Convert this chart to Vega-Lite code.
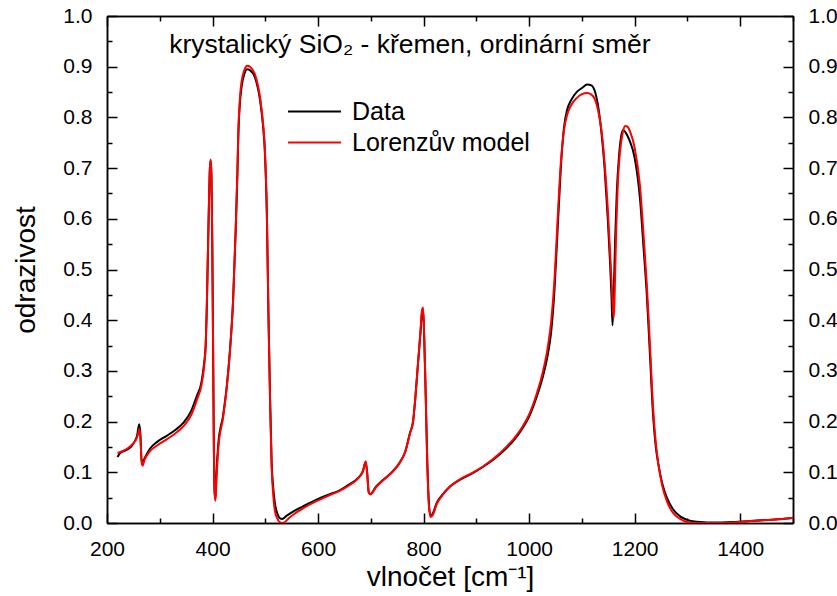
{
  "$schema": "https://vega.github.io/schema/vega-lite/v6.json",
  "width": 686,
  "height": 507,
  "autosize": {"type": "none"},
  "padding": {"left": 107, "top": 16, "right": 44, "bottom": 73},
  "background": "white",
  "config": {
    "view": {"stroke": null},
    "font": "Liberation Sans",
    "axis": {
      "grid": false,
      "domainColor": "#000000",
      "domainWidth": 1.5,
      "tickColor": "#000000",
      "tickWidth": 1.5,
      "labelColor": "#000000",
      "labelFont": "Liberation Sans",
      "labelFontSize": 21,
      "titleFont": "Liberation Sans",
      "titleFontWeight": "normal",
      "titleColor": "#000000",
      "titleFontSize": 28
    }
  },
  "datasets": {
    "title": [{"x": 774, "y": 0.943, "t": "krystalický SiO₂ - křemen, ordinární směr"}]
  },
  "data": {"values": [
    {"s":"Data","x":220,"y":0.130},{"s":"Data","x":225,"y":0.138},{"s":"Data","x":235,"y":0.143},{"s":"Data","x":245,"y":0.150},{"s":"Data","x":252,"y":0.160},{"s":"Data","x":257,"y":0.172},{"s":"Data","x":261,"y":0.195},{"s":"Data","x":263,"y":0.180},{"s":"Data","x":266,"y":0.116},{"s":"Data","x":270,"y":0.125},{"s":"Data","x":281,"y":0.146},{"s":"Data","x":295,"y":0.160},{"s":"Data","x":313,"y":0.172},{"s":"Data","x":330,"y":0.184},{"s":"Data","x":345,"y":0.198},{"s":"Data","x":360,"y":0.222},{"s":"Data","x":370,"y":0.250},{"s":"Data","x":379,"y":0.278},{"s":"Data","x":384,"y":0.315},{"s":"Data","x":387,"y":0.350},{"s":"Data","x":389,"y":0.42},{"s":"Data","x":391,"y":0.52},{"s":"Data","x":393,"y":0.62},{"s":"Data","x":395,"y":0.70},{"s":"Data","x":396.5,"y":0.715},{"s":"Data","x":398,"y":0.68},{"s":"Data","x":399.5,"y":0.55},{"s":"Data","x":401,"y":0.35},{"s":"Data","x":402.5,"y":0.15},{"s":"Data","x":404,"y":0.06},{"s":"Data","x":405.5,"y":0.048},{"s":"Data","x":407,"y":0.09},{"s":"Data","x":411,"y":0.157},{"s":"Data","x":420,"y":0.212},{"s":"Data","x":427,"y":0.27},{"s":"Data","x":433,"y":0.341},{"s":"Data","x":439,"y":0.44},{"s":"Data","x":444,"y":0.58},{"s":"Data","x":447,"y":0.683},{"s":"Data","x":449,"y":0.77},{"s":"Data","x":452,"y":0.83},{"s":"Data","x":455,"y":0.86},{"s":"Data","x":460,"y":0.885},{"s":"Data","x":466,"y":0.895},{"s":"Data","x":471,"y":0.893},{"s":"Data","x":480,"y":0.88},{"s":"Data","x":490,"y":0.834},{"s":"Data","x":496,"y":0.78},{"s":"Data","x":499,"y":0.736},{"s":"Data","x":503,"y":0.604},{"s":"Data","x":506,"y":0.407},{"s":"Data","x":509,"y":0.25},{"s":"Data","x":512,"y":0.12},{"s":"Data","x":515,"y":0.07},{"s":"Data","x":518,"y":0.04},{"s":"Data","x":523,"y":0.018},{"s":"Data","x":528,"y":0.009},{"s":"Data","x":532,"y":0.008},{"s":"Data","x":540,"y":0.014},{"s":"Data","x":555,"y":0.024},{"s":"Data","x":570,"y":0.032},{"s":"Data","x":597,"y":0.046},{"s":"Data","x":620,"y":0.056},{"s":"Data","x":640,"y":0.064},{"s":"Data","x":660,"y":0.077},{"s":"Data","x":675,"y":0.088},{"s":"Data","x":685,"y":0.103},{"s":"Data","x":690,"y":0.120},{"s":"Data","x":693,"y":0.100},{"s":"Data","x":696,"y":0.060},{"s":"Data","x":699,"y":0.057},{"s":"Data","x":710,"y":0.072},{"s":"Data","x":723,"y":0.085},{"s":"Data","x":740,"y":0.100},{"s":"Data","x":755,"y":0.120},{"s":"Data","x":765,"y":0.140},{"s":"Data","x":774,"y":0.177},{"s":"Data","x":780,"y":0.200},{"s":"Data","x":784,"y":0.243},{"s":"Data","x":789,"y":0.310},{"s":"Data","x":794,"y":0.374},{"s":"Data","x":797,"y":0.415},{"s":"Data","x":799,"y":0.42},{"s":"Data","x":801,"y":0.37},{"s":"Data","x":804,"y":0.25},{"s":"Data","x":807,"y":0.12},{"s":"Data","x":810,"y":0.04},{"s":"Data","x":813,"y":0.014},{"s":"Data","x":817,"y":0.018},{"s":"Data","x":825,"y":0.040},{"s":"Data","x":835,"y":0.055},{"s":"Data","x":850,"y":0.072},{"s":"Data","x":870,"y":0.086},{"s":"Data","x":894,"y":0.099},{"s":"Data","x":913,"y":0.111},{"s":"Data","x":945,"y":0.136},{"s":"Data","x":976,"y":0.170},{"s":"Data","x":988,"y":0.188},{"s":"Data","x":1000,"y":0.210},{"s":"Data","x":1014,"y":0.248},{"s":"Data","x":1025,"y":0.285},{"s":"Data","x":1035,"y":0.330},{"s":"Data","x":1042,"y":0.38},{"s":"Data","x":1048,"y":0.46},{"s":"Data","x":1054,"y":0.58},{"s":"Data","x":1060,"y":0.70},{"s":"Data","x":1066,"y":0.78},{"s":"Data","x":1072,"y":0.815},{"s":"Data","x":1080,"y":0.835},{"s":"Data","x":1090,"y":0.85},{"s":"Data","x":1100,"y":0.858},{"s":"Data","x":1110,"y":0.865},{"s":"Data","x":1118,"y":0.863},{"s":"Data","x":1125,"y":0.850},{"s":"Data","x":1131,"y":0.82},{"s":"Data","x":1137,"y":0.77},{"s":"Data","x":1143,"y":0.70},{"s":"Data","x":1149,"y":0.60},{"s":"Data","x":1153,"y":0.52},{"s":"Data","x":1156,"y":0.45},{"s":"Data","x":1158,"y":0.39},{"s":"Data","x":1160,"y":0.44},{"s":"Data","x":1163,"y":0.56},{"s":"Data","x":1166,"y":0.65},{"s":"Data","x":1170,"y":0.72},{"s":"Data","x":1174,"y":0.76},{"s":"Data","x":1178,"y":0.775},{"s":"Data","x":1183,"y":0.77},{"s":"Data","x":1190,"y":0.755},{"s":"Data","x":1200,"y":0.72},{"s":"Data","x":1210,"y":0.64},{"s":"Data","x":1217,"y":0.54},{"s":"Data","x":1223,"y":0.45},{"s":"Data","x":1229,"y":0.33},{"s":"Data","x":1235,"y":0.21},{"s":"Data","x":1240,"y":0.15},{"s":"Data","x":1245,"y":0.115},{"s":"Data","x":1253,"y":0.075},{"s":"Data","x":1261,"y":0.05},{"s":"Data","x":1272,"y":0.028},{"s":"Data","x":1286,"y":0.013},{"s":"Data","x":1300,"y":0.006},{"s":"Data","x":1324,"y":0.002},{"s":"Data","x":1350,"y":0.001},{"s":"Data","x":1386,"y":0.002},{"s":"Data","x":1420,"y":0.004},{"s":"Data","x":1450,"y":0.006},{"s":"Data","x":1480,"y":0.008},{"s":"Data","x":1500,"y":0.010},
    {"s":"Lorenzův model","x":220,"y":0.138},{"s":"Lorenzův model","x":230,"y":0.142},{"s":"Lorenzův model","x":240,"y":0.148},{"s":"Lorenzův model","x":248,"y":0.155},{"s":"Lorenzův model","x":254,"y":0.163},{"s":"Lorenzův model","x":258,"y":0.172},{"s":"Lorenzův model","x":261.5,"y":0.186},{"s":"Lorenzův model","x":263.5,"y":0.165},{"s":"Lorenzův model","x":265.5,"y":0.122},{"s":"Lorenzův model","x":267.5,"y":0.113},{"s":"Lorenzův model","x":271,"y":0.124},{"s":"Lorenzův model","x":281,"y":0.141},{"s":"Lorenzův model","x":295,"y":0.153},{"s":"Lorenzův model","x":313,"y":0.165},{"s":"Lorenzův model","x":330,"y":0.177},{"s":"Lorenzův model","x":345,"y":0.191},{"s":"Lorenzův model","x":360,"y":0.214},{"s":"Lorenzův model","x":370,"y":0.242},{"s":"Lorenzův model","x":379,"y":0.272},{"s":"Lorenzův model","x":384,"y":0.308},{"s":"Lorenzův model","x":387,"y":0.35},{"s":"Lorenzův model","x":389,"y":0.42},{"s":"Lorenzův model","x":391,"y":0.52},{"s":"Lorenzův model","x":393,"y":0.62},{"s":"Lorenzův model","x":395,"y":0.70},{"s":"Lorenzův model","x":396.5,"y":0.717},{"s":"Lorenzův model","x":398,"y":0.685},{"s":"Lorenzův model","x":399.5,"y":0.56},{"s":"Lorenzův model","x":401,"y":0.36},{"s":"Lorenzův model","x":402.5,"y":0.16},{"s":"Lorenzův model","x":404,"y":0.06},{"s":"Lorenzův model","x":405.5,"y":0.044},{"s":"Lorenzův model","x":407,"y":0.075},{"s":"Lorenzův model","x":411,"y":0.148},{"s":"Lorenzův model","x":420,"y":0.208},{"s":"Lorenzův model","x":427,"y":0.268},{"s":"Lorenzův model","x":433,"y":0.338},{"s":"Lorenzův model","x":439,"y":0.44},{"s":"Lorenzův model","x":444,"y":0.585},{"s":"Lorenzův model","x":447,"y":0.69},{"s":"Lorenzův model","x":449,"y":0.775},{"s":"Lorenzův model","x":452,"y":0.84},{"s":"Lorenzův model","x":455,"y":0.87},{"s":"Lorenzův model","x":460,"y":0.893},{"s":"Lorenzův model","x":466,"y":0.902},{"s":"Lorenzův model","x":471,"y":0.90},{"s":"Lorenzův model","x":480,"y":0.886},{"s":"Lorenzův model","x":490,"y":0.84},{"s":"Lorenzův model","x":496,"y":0.785},{"s":"Lorenzův model","x":499,"y":0.74},{"s":"Lorenzův model","x":503,"y":0.61},{"s":"Lorenzův model","x":506,"y":0.41},{"s":"Lorenzův model","x":509,"y":0.24},{"s":"Lorenzův model","x":512,"y":0.11},{"s":"Lorenzův model","x":515,"y":0.055},{"s":"Lorenzův model","x":518,"y":0.025},{"s":"Lorenzův model","x":523,"y":0.008},{"s":"Lorenzův model","x":528,"y":0.001},{"s":"Lorenzův model","x":532,"y":0.0},{"s":"Lorenzův model","x":537,"y":0.002},{"s":"Lorenzův model","x":545,"y":0.01},{"s":"Lorenzův model","x":555,"y":0.018},{"s":"Lorenzův model","x":570,"y":0.028},{"s":"Lorenzův model","x":597,"y":0.043},{"s":"Lorenzův model","x":620,"y":0.054},{"s":"Lorenzův model","x":640,"y":0.063},{"s":"Lorenzův model","x":660,"y":0.075},{"s":"Lorenzův model","x":675,"y":0.087},{"s":"Lorenzův model","x":685,"y":0.102},{"s":"Lorenzův model","x":690.5,"y":0.122},{"s":"Lorenzův model","x":693,"y":0.098},{"s":"Lorenzův model","x":696,"y":0.062},{"s":"Lorenzův model","x":699,"y":0.056},{"s":"Lorenzův model","x":710,"y":0.071},{"s":"Lorenzův model","x":723,"y":0.084},{"s":"Lorenzův model","x":740,"y":0.100},{"s":"Lorenzův model","x":755,"y":0.119},{"s":"Lorenzův model","x":765,"y":0.140},{"s":"Lorenzův model","x":774,"y":0.176},{"s":"Lorenzův model","x":780,"y":0.200},{"s":"Lorenzův model","x":784,"y":0.243},{"s":"Lorenzův model","x":789,"y":0.31},{"s":"Lorenzův model","x":794,"y":0.378},{"s":"Lorenzův model","x":797,"y":0.42},{"s":"Lorenzův model","x":799,"y":0.425},{"s":"Lorenzův model","x":801,"y":0.375},{"s":"Lorenzův model","x":804,"y":0.25},{"s":"Lorenzův model","x":807,"y":0.115},{"s":"Lorenzův model","x":810,"y":0.035},{"s":"Lorenzův model","x":813,"y":0.012},{"s":"Lorenzův model","x":817,"y":0.015},{"s":"Lorenzův model","x":825,"y":0.038},{"s":"Lorenzův model","x":835,"y":0.054},{"s":"Lorenzův model","x":850,"y":0.072},{"s":"Lorenzův model","x":870,"y":0.087},{"s":"Lorenzův model","x":894,"y":0.100},{"s":"Lorenzův model","x":913,"y":0.112},{"s":"Lorenzův model","x":945,"y":0.138},{"s":"Lorenzův model","x":976,"y":0.173},{"s":"Lorenzův model","x":988,"y":0.191},{"s":"Lorenzův model","x":1000,"y":0.214},{"s":"Lorenzův model","x":1014,"y":0.254},{"s":"Lorenzův model","x":1025,"y":0.294},{"s":"Lorenzův model","x":1035,"y":0.345},{"s":"Lorenzův model","x":1042,"y":0.40},{"s":"Lorenzův model","x":1048,"y":0.48},{"s":"Lorenzův model","x":1054,"y":0.60},{"s":"Lorenzův model","x":1060,"y":0.71},{"s":"Lorenzův model","x":1066,"y":0.775},{"s":"Lorenzův model","x":1072,"y":0.805},{"s":"Lorenzův model","x":1080,"y":0.825},{"s":"Lorenzův model","x":1090,"y":0.838},{"s":"Lorenzův model","x":1100,"y":0.846},{"s":"Lorenzův model","x":1110,"y":0.848},{"s":"Lorenzův model","x":1118,"y":0.845},{"s":"Lorenzův model","x":1125,"y":0.835},{"s":"Lorenzův model","x":1131,"y":0.812},{"s":"Lorenzův model","x":1137,"y":0.775},{"s":"Lorenzův model","x":1143,"y":0.71},{"s":"Lorenzův model","x":1149,"y":0.62},{"s":"Lorenzův model","x":1153,"y":0.54},{"s":"Lorenzův model","x":1156.5,"y":0.47},{"s":"Lorenzův model","x":1159,"y":0.42},{"s":"Lorenzův model","x":1160.5,"y":0.405},{"s":"Lorenzův model","x":1162.5,"y":0.47},{"s":"Lorenzův model","x":1165,"y":0.58},{"s":"Lorenzův model","x":1168,"y":0.67},{"s":"Lorenzův model","x":1172,"y":0.73},{"s":"Lorenzův model","x":1177,"y":0.768},{"s":"Lorenzův model","x":1182,"y":0.783},{"s":"Lorenzův model","x":1186,"y":0.782},{"s":"Lorenzův model","x":1192,"y":0.77},{"s":"Lorenzův model","x":1200,"y":0.74},{"s":"Lorenzův model","x":1210,"y":0.665},{"s":"Lorenzův model","x":1217,"y":0.565},{"s":"Lorenzův model","x":1223,"y":0.47},{"s":"Lorenzův model","x":1229,"y":0.35},{"s":"Lorenzův model","x":1235,"y":0.225},{"s":"Lorenzův model","x":1240,"y":0.158},{"s":"Lorenzův model","x":1245,"y":0.115},{"s":"Lorenzův model","x":1253,"y":0.07},{"s":"Lorenzův model","x":1261,"y":0.043},{"s":"Lorenzův model","x":1272,"y":0.021},{"s":"Lorenzův model","x":1286,"y":0.008},{"s":"Lorenzův model","x":1300,"y":0.002},{"s":"Lorenzův model","x":1324,"y":0.0},{"s":"Lorenzův model","x":1350,"y":0.0},{"s":"Lorenzův model","x":1386,"y":0.001},{"s":"Lorenzův model","x":1420,"y":0.004},{"s":"Lorenzův model","x":1450,"y":0.006},{"s":"Lorenzův model","x":1480,"y":0.008},{"s":"Lorenzův model","x":1500,"y":0.0105}
  ]},
  "resolve": {"axis": {"x": "independent", "y": "independent"}},
  "layer": [
    {
      "mark": {"type": "line", "strokeWidth": 2, "clip": true, "interpolate": "monotone"},
      "encoding": {
        "x": {"field": "x", "type": "quantitative", "scale": {"domain": [200, 1500], "nice": false, "zero": false},
              "axis": {"orient": "bottom", "values": [200, 400, 600, 800, 1000, 1200, 1400], "format": "d", "tickSize": -10, "labelPadding": 25, "title": "vlnočet [cm⁻¹]", "titlePadding": 4, "labelFlush": false}},
        "y": {"field": "y", "type": "quantitative", "scale": {"domain": [0, 1], "nice": false},
              "axis": {"orient": "left", "values": [0, 0.1, 0.2, 0.3, 0.4, 0.5, 0.6, 0.7, 0.8, 0.9, 1.0], "format": ".1f", "tickSize": -10, "labelPadding": 25, "title": "odrazivost", "titlePadding": 22, "labelFlush": false}},
        "color": {"field": "s", "type": "nominal",
                  "scale": {"domain": ["Data", "Lorenzův model"], "range": ["#000000", "#ff0000"]},
                  "legend": {"title": null, "orient": "none", "legendX": 180, "legendY": 80, "symbolType": "stroke", "symbolSize": 2800, "symbolStrokeWidth": 2, "labelFontSize": 25, "labelFont": "Liberation Sans", "labelColor": "#000000", "labelOffset": 10, "labelLimit": 400, "clipHeight": 31, "rowPadding": 0}}
      }
    },
    {
      "mark": {"type": "point", "opacity": 0},
      "encoding": {
        "x": {"field": "x", "type": "quantitative", "axis": {"orient": "top", "values": [200, 400, 600, 800, 1000, 1200, 1400], "tickSize": -10, "labels": false, "title": null}},
        "y": {"field": "y", "type": "quantitative", "axis": {"orient": "right", "values": [0, 0.1, 0.2, 0.3, 0.4, 0.5, 0.6, 0.7, 0.8, 0.9, 1.0], "format": ".1f", "tickSize": -10, "labelPadding": 25, "title": null, "labelFlush": false}}
      }
    },
    {
      "mark": {"type": "point", "opacity": 0},
      "encoding": {
        "x": {"field": "x", "type": "quantitative", "axis": {"orient": "bottom", "values": [300, 500, 700, 900, 1100, 1300, 1500], "tickSize": -5, "labels": false, "title": null}},
        "y": {"field": "y", "type": "quantitative", "axis": {"orient": "left", "values": [0.05, 0.15, 0.25, 0.35, 0.45, 0.55, 0.65, 0.75, 0.85, 0.95], "tickSize": -5, "labels": false, "title": null}}
      }
    },
    {
      "mark": {"type": "point", "opacity": 0},
      "encoding": {
        "x": {"field": "x", "type": "quantitative", "axis": {"orient": "top", "values": [300, 500, 700, 900, 1100, 1300, 1500], "tickSize": -5, "labels": false, "title": null}},
        "y": {"field": "y", "type": "quantitative", "axis": {"orient": "right", "values": [0.05, 0.15, 0.25, 0.35, 0.45, 0.55, 0.65, 0.75, 0.85, 0.95], "tickSize": -5, "labels": false, "title": null}}
      }
    },
    {
      "data": {"name": "title"},
      "mark": {"type": "text", "font": "Liberation Sans", "fontSize": 26.5, "align": "center", "baseline": "middle", "color": "#000000"},
      "encoding": {
        "x": {"field": "x", "type": "quantitative", "axis": null},
        "y": {"field": "y", "type": "quantitative", "axis": null},
        "text": {"field": "t"}
      }
    }
  ]
}
